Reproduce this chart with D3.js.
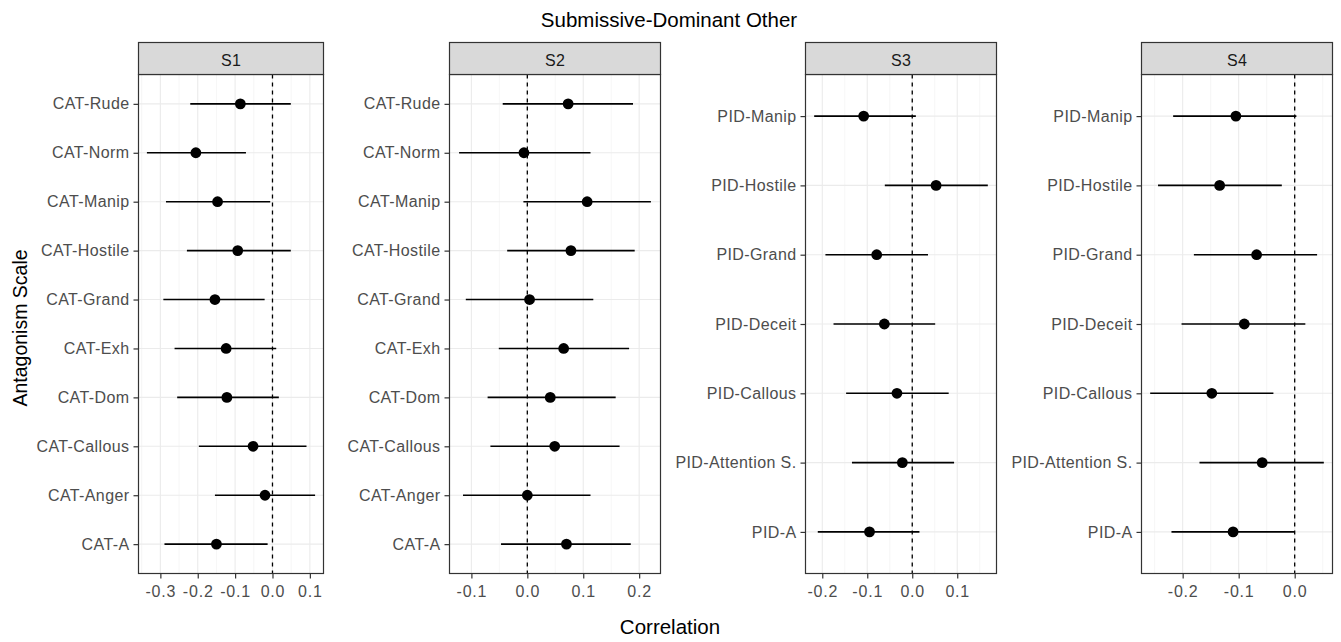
<!DOCTYPE html>
<html><head><meta charset="utf-8">
<script src="https://cdn.jsdelivr.net/npm/d3@7"></script>
<style>body{margin:0;background:#fff}svg{display:block;font-family:"Liberation Sans",Arial,sans-serif}</style>
</head><body><svg id="c" width="1341" height="642"></svg>
<script>
// ---- data ----
const panelNames = ["S1","S2","S3","S4"];
const catCAT = ["CAT-Rude","CAT-Norm","CAT-Manip","CAT-Hostile","CAT-Grand","CAT-Exh","CAT-Dom","CAT-Callous","CAT-Anger","CAT-A"];
const catPID = ["PID-Manip","PID-Hostile","PID-Grand","PID-Deceit","PID-Callous","PID-Attention S.","PID-A"];
const s1Est = [-0.086,-0.205,-0.147,-0.093,-0.154,-0.124,-0.122,-0.052,-0.020,-0.150];
const s1Lo  = [-0.220,-0.336,-0.285,-0.229,-0.292,-0.262,-0.255,-0.197,-0.154,-0.289];
const s1Hi  = [ 0.049,-0.071,-0.006, 0.049,-0.021, 0.010, 0.017, 0.091, 0.114,-0.013];
const s2Est = [ 0.073,-0.006, 0.107, 0.078, 0.004, 0.065, 0.041, 0.049, 0.000, 0.070];
const s2Lo  = [-0.044,-0.122,-0.007,-0.036,-0.110,-0.051,-0.071,-0.066,-0.115,-0.047];
const s2Hi  = [ 0.189, 0.113, 0.221, 0.192, 0.118, 0.182, 0.158, 0.165, 0.113, 0.185];
const s3Est = [-0.108, 0.053,-0.079,-0.062,-0.034,-0.022,-0.095];
const s3Lo  = [-0.218,-0.061,-0.193,-0.175,-0.147,-0.134,-0.210];
const s3Hi  = [ 0.008, 0.168, 0.035, 0.051, 0.081, 0.093, 0.016];
const s4Est = [-0.105,-0.134,-0.068,-0.090,-0.148,-0.058,-0.110];
const s4Lo  = [-0.217,-0.244,-0.180,-0.202,-0.258,-0.170,-0.220];
const s4Hi  = [ 0.003,-0.023, 0.040, 0.019,-0.038, 0.052, 0.000];
const s1Ticks = [-0.3,-0.2,-0.1,0.0,0.1];
const s2Ticks = [-0.1,0.0,0.1,0.2];
const s3Ticks = [-0.2,-0.1,0.0,0.1];
const s4Ticks = [-0.2,-0.1,0.0];
const titleText = "Submissive-Dominant Other";
const xTitle = "Correlation";
const yTitle = "Antagonism Scale";

// ---- layout ----
const panels = [
  {name:panelNames[0], cats:catCAT, est:s1Est, lo:s1Lo, hi:s1Hi, ticks:s1Ticks, x0:138.5, x1:323.5},
  {name:panelNames[1], cats:catCAT, est:s2Est, lo:s2Lo, hi:s2Hi, ticks:s2Ticks, x0:449.5, x1:660.5},
  {name:panelNames[2], cats:catPID, est:s3Est, lo:s3Lo, hi:s3Hi, ticks:s3Ticks, x0:805.5, x1:996.5},
  {name:panelNames[3], cats:catPID, est:s4Est, lo:s4Lo, hi:s4Hi, ticks:s4Ticks, x0:1141.5, x1:1332.5}
];
const stripTop = 42.5, panelTop = 74.5, panelBot = 573.5;
const svg = d3.select("#c");
const grey = "#4D4D4D";
const tickFont = 16, tickLS = "0.4px";

panels.forEach(p => {
  const mn = d3.min(p.lo), mx = d3.max(p.hi), pad = (mx - mn) * 0.05;
  const x = d3.scaleLinear().domain([mn - pad, mx + pad]).range([p.x0, p.x1]);
  const y = d3.scalePoint().domain(p.cats).range([panelTop, panelBot]).padding(0.6);
  const g = svg.append("g");
  g.append("rect").attr("x",p.x0).attr("y",panelTop).attr("width",p.x1-p.x0).attr("height",panelBot-panelTop).attr("fill","#fff");
  // minor grid
  const minor = [];
  const d = x.domain();
  for (let i = 0; i <= p.ticks.length; i++) {
    const v = (i === 0 ? p.ticks[0] - 0.05 : p.ticks[i-1] + 0.05);
    if (v > d[0] && v < d[1]) minor.push(v);
  }
  g.selectAll(".mn").data(minor).join("line")
    .attr("x1",v=>x(v)).attr("x2",v=>x(v)).attr("y1",panelTop).attr("y2",panelBot)
    .attr("stroke","#F2F2F2").attr("stroke-width",0.7);
  g.selectAll(".mj").data(p.ticks).join("line")
    .attr("x1",v=>x(v)).attr("x2",v=>x(v)).attr("y1",panelTop).attr("y2",panelBot)
    .attr("stroke","#EBEBEB").attr("stroke-width",1.1);
  g.selectAll(".hg").data(p.cats).join("line")
    .attr("x1",p.x0).attr("x2",p.x1).attr("y1",c=>y(c)).attr("y2",c=>y(c))
    .attr("stroke","#EBEBEB").attr("stroke-width",1.1);
  // zero line
  g.append("line").attr("x1",x(0)).attr("x2",x(0)).attr("y1",panelTop).attr("y2",panelBot)
    .attr("stroke","#000").attr("stroke-width",1.3).attr("stroke-dasharray","4,4");
  // error bars and points
  g.selectAll(".eb").data(p.cats).join("line")
    .attr("x1",(c,i)=>x(p.lo[i])).attr("x2",(c,i)=>x(p.hi[i]))
    .attr("y1",c=>y(c)).attr("y2",c=>y(c))
    .attr("stroke","#000").attr("stroke-width",1.6);
  g.selectAll(".pt").data(p.cats).join("circle")
    .attr("cx",(c,i)=>x(p.est[i])).attr("cy",c=>y(c)).attr("r",5.4).attr("fill","#000");
  // border
  g.append("rect").attr("x",p.x0).attr("y",panelTop).attr("width",p.x1-p.x0).attr("height",panelBot-panelTop)
    .attr("fill","none").attr("stroke","#333").attr("stroke-width",1.2);
  // strip
  g.append("rect").attr("x",p.x0).attr("y",stripTop).attr("width",p.x1-p.x0).attr("height",panelTop-stripTop)
    .attr("fill","#D9D9D9").attr("stroke","#333").attr("stroke-width",1.2);
  g.append("text").attr("x",(p.x0+p.x1)/2).attr("y",65.5)
    .attr("text-anchor","middle").attr("font-size",16).attr("letter-spacing","0.3px").attr("fill","#1A1A1A").text(p.name);
  // axes
  const xa = g.append("g").attr("transform",`translate(0,${panelBot})`)
    .call(d3.axisBottom(x).tickValues(p.ticks).tickFormat(d3.format(".1f")).tickSize(5).tickPadding(7));
  xa.select(".domain").remove();
  xa.selectAll("line").attr("stroke","#333").attr("stroke-width",1.2);
  xa.selectAll("text").attr("font-size",tickFont).attr("letter-spacing","0.8px").attr("fill",grey)
    .attr("font-family","Liberation Sans, Arial, sans-serif")
    .text(v => d3.format(".1f")(v).replace("\u2212","-"));
  const ya = g.append("g").attr("transform",`translate(${p.x0},0)`)
    .call(d3.axisLeft(y).tickSize(5).tickPadding(4));
  ya.select(".domain").remove();
  ya.selectAll("line").attr("stroke","#333").attr("stroke-width",1.2);
  ya.selectAll("text").attr("font-size",tickFont).attr("letter-spacing",tickLS).attr("fill",grey)
    .attr("font-family","Liberation Sans, Arial, sans-serif");
});

svg.append("text").attr("x",669).attr("y",26.5).attr("text-anchor","middle")
  .attr("font-size",20.5).attr("fill","#000").text(titleText);
svg.append("text").attr("x",670).attr("y",634).attr("text-anchor","middle")
  .attr("font-size",20.5).attr("fill","#000").text(xTitle);
svg.append("text").attr("transform","translate(26.5,328) rotate(-90)").attr("text-anchor","middle")
  .attr("font-size",19.5).attr("fill","#000").text(yTitle);
</script></body></html>
